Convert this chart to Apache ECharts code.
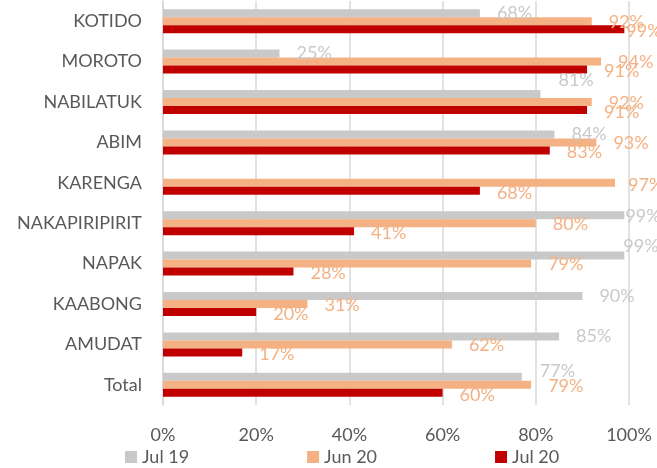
<!DOCTYPE html>
<html>
<head>
<meta charset="utf-8">
<script src="https://cdn.jsdelivr.net/npm/echarts@6/dist/echarts.min.js"></script>
<style>
  html, body { margin: 0; padding: 0; background: #fff; }
  #chart { width: 657px; height: 468px; }
</style>
</head>
<body>
<div id="chart"></div>
<script>
// districts, top to bottom
const categories = ['KOTIDO', 'MOROTO', 'NABILATUK', 'ABIM', 'KARENGA', 'NAKAPIRIPIRIT', 'NAPAK', 'KAABONG', 'AMUDAT', 'Total']
const jul19 = [68, 25, 81, 84, null, 99, 99, 90, 85, 77]
const jun20 = [92, 94, 92, 93, 97, 80, 79, 31, 62, 79]
const jul20 = [99, 91, 91, 83, 68, 41, 28, 20, 17, 60]
const xTicks = [0, 20, 40, 60, 80, 100]

// a few labels were nudged by hand in the original (so they don't run off the plot)
const labelNudge = {
  'Jul 19': { NABILATUK: [1, -14], NAKAPIRIPIRIT: [-16, 1], NAPAK: [-18, -9], Total: [1, -6] },
  'Jun 20': { KARENGA: [-4, 2] },
  'Jul 20': { KOTIDO: [-15, 2] }
}

const font = 'Lato'

function makeSeries(name, values, color, labelColor, dy) {
  const nudges = labelNudge[name] || {}
  return {
    name: name,
    type: 'bar',
    barWidth: 8,
    barGap: '0%',
    itemStyle: { color: color },
    label: {
      show: true,
      position: 'right',
      distance: 17,
      offset: [0, dy],
      color: labelColor,
      fontFamily: font,
      fontSize: 18,
      formatter: p => p.value + '%'
    },
    data: values.map((v, i) => {
      const n = nudges[categories[i]]
      if (v == null) return '-'
      if (!n) return v
      return { value: v, label: { offset: n } }
    })
  }
}

const chart = echarts.init(document.getElementById('chart'))
chart.setOption({
  animation: false,
  textStyle: { fontFamily: font },
  grid: {
    left: 163,
    right: 28,
    top: 1,
    bottom: 63
  },
  legend: {
    bottom: 2,
    left: 125,
    padding: 0,
    itemGap: 118,
    itemWidth: 12,
    itemHeight: 12,
    icon: 'rect',
    textStyle: { color: '#595959', fontSize: 18, fontFamily: font },
    data: ['Jul 19', 'Jun 20', 'Jul 20']
  },
  xAxis: {
    type: 'value',
    min: xTicks[0],
    max: xTicks[xTicks.length - 1],
    interval: 20,
    axisLine: { show: false },
    axisTick: { show: false },
    splitLine: { lineStyle: { color: '#d9d9d9', width: 1.5 } },
    axisLabel: {
      color: '#595959',
      fontSize: 18,
      fontFamily: font,
      margin: 21,
      formatter: '{value}%'
    }
  },
  yAxis: {
    type: 'category',
    inverse: true,
    data: categories,
    axisLine: { lineStyle: { color: '#d9d9d9', width: 1.5 } },
    axisTick: { show: false },
    axisLabel: {
      color: '#595959',
      fontSize: 18,
      fontFamily: font,
      margin: 21
    }
  },
  series: [
    makeSeries('Jul 19', jul19, '#c9c9c9', '#c9c9c9', 0),
    makeSeries('Jun 20', jun20, '#f4b183', '#f4b183', 1),
    makeSeries('Jul 20', jul20, '#c00000', '#f4b183', 2)
  ]
})
</script>
</body>
</html>
